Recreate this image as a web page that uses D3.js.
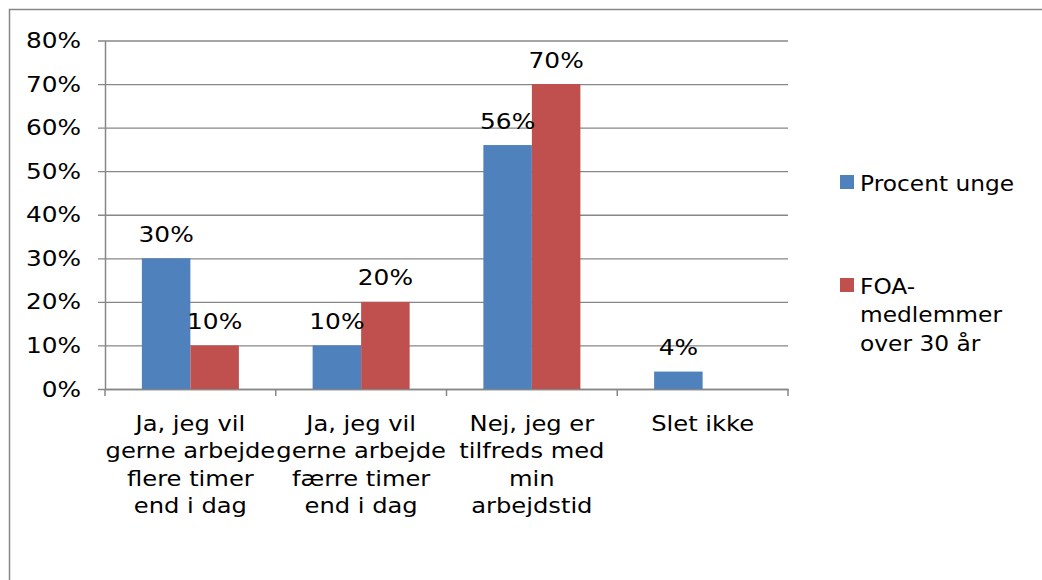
<!DOCTYPE html>
<html>
<head>
<meta charset="utf-8">
<script src="https://cdn.jsdelivr.net/npm/d3@7/dist/d3.min.js"></script>
<style>
  body { margin: 0; background: #fff; }
  text { font-family: "DejaVu Sans", Verdana, sans-serif; fill: #000; }
</style>
</head>
<body>
<div id="chart-area"></div>
<script>
// data
var categories = ['cat1', 'cat2', 'cat3', 'cat4'];
var categoryLines = [
  ['Ja, jeg vil', 'gerne arbejde', 'flere timer', 'end i dag'],
  ['Ja, jeg vil', 'gerne arbejde', 'færre timer', 'end i dag'],
  ['Nej, jeg er', 'tilfreds med', 'min', 'arbejdstid'],
  ['Slet ikke']
];
var seriesNames = ['Procent unge', 'FOA-medlemmer over 30 år'];
var legendLines = [['Procent unge'], ['FOA-', 'medlemmer', 'over 30 år']];
var ungeValues = [0.30, 0.10, 0.56, 0.04];
var foaValues = [0.10, 0.20, 0.70, null];
var yTicks = [0, 0.1, 0.2, 0.3, 0.4, 0.5, 0.6, 0.7, 0.8];
var colors = ['#4F81BD', '#C0504D'];

var svgWidth = 1042, svgHeight = 580;
var margin = {left: 105, right: 254, top: 40.5, bottom: 191};
var grey = '#878787';

var svg = d3.select('#chart-area')
  .append('svg')
  .attr('width', svgWidth)
  .attr('height', svgHeight);

// outer chart border (only left and top show)
svg.append('rect')
  .attr('x', 9.5).attr('y', 9.5)
  .attr('width', 1100).attr('height', 700)
  .attr('fill', 'none')
  .attr('stroke', grey)
  .attr('stroke-width', 1.5);

var x0 = d3.scaleBand()
  .domain(categories)
  .range([margin.left, svgWidth - margin.right]);

var x1 = d3.scaleBand()
  .domain(seriesNames)
  .range([0, x0.bandwidth()])
  .paddingOuter(0.76);

var y = d3.scaleLinear()
  .domain([0, 0.8])
  .range([svgHeight - margin.bottom, margin.top]);

// text placed through a translate + horizontal stretch
function putText(sel, x, y, sx, anchor) {
  return sel.attr('transform', 'translate(' + x + ',' + y + ') scale(' + sx + ',1)')
    .attr('text-anchor', anchor);
}

// gridlines with their little tick stubs on the left
var grid = svg.append('g')
  .attr('transform', 'translate(' + (margin.left - 7) + ',0)')
  .call(d3.axisRight(y).tickValues(yTicks).tickSize(svgWidth - margin.right - margin.left + 7).tickFormat(''));
grid.select('.domain').remove();
grid.selectAll('line').attr('stroke', grey).attr('stroke-width', 1.3);

// y axis line
var yAxis = svg.append('g')
  .attr('transform', 'translate(' + margin.left + ',0)')
  .call(d3.axisLeft(y).tickValues(yTicks).tickSize(0).tickFormat(''));
yAxis.select('.domain').attr('stroke', grey).attr('stroke-width', 1.5);

// y tick labels
yTicks.forEach(function(t) {
  putText(svg.append('text'), 81, y(t) + 7.5, 1.18, 'end')
    .style('font-size', '21px')
    .text(d3.format('.0%')(t));
});

// x axis with ticks at band edges
var xAxis = svg.append('g')
  .attr('transform', 'translate(0,' + y(0) + ')')
  .call(d3.axisBottom(x0).tickSize(0).tickFormat(''));
xAxis.select('.domain').attr('stroke', grey).attr('stroke-width', 1.5);
var edges = categories.map(function(c) { return x0(c); }).concat([x0.range()[1]]);
xAxis.selectAll('.edge').data(edges).enter()
  .append('line')
  .attr('x1', function(d) { return d; })
  .attr('x2', function(d) { return d; })
  .attr('y1', 0).attr('y2', 7)
  .attr('stroke', grey).attr('stroke-width', 1.5);

// category labels
categories.forEach(function(c, i) {
  categoryLines[i].forEach(function(line, j) {
    putText(svg.append('text'), x0(c) + x0.bandwidth() / 2, 430.7 + j * 27.5, 1.1, 'middle')
      .style('font-size', '22px')
      .text(line);
  });
});

// bars
var rows = categories.map(function(c, i) {
  return {cat: c, values: [ungeValues[i], foaValues[i]]};
});

var groups = svg.selectAll('.group').data(rows).enter()
  .append('g')
  .attr('transform', function(d) { return 'translate(' + x0(d.cat) + ',0)'; });

groups.selectAll('rect')
  .data(function(d) {
    return d.values.map(function(v, k) { return {s: seriesNames[k], v: v, k: k}; })
      .filter(function(e) { return e.v != null; });
  })
  .enter()
  .append('rect')
  .attr('x', function(d) { return x1(d.s); })
  .attr('y', function(d) { return y(d.v); })
  .attr('width', x1.bandwidth())
  .attr('height', function(d) { return y(0) - y(d.v); })
  .attr('fill', function(d) { return colors[d.k]; });

// data labels
groups.each(function(d) {
  var g = d3.select(this);
  d.values.forEach(function(v, k) {
    if (v == null) return;
    putText(g.append('text'), x1(seriesNames[k]) + x1.bandwidth() / 2, y(v) - 16.5, 1.13, 'middle')
      .style('font-size', '22px')
      .text(d3.format('.0%')(v));
  });
});

// legend
var legendTop = [175, 278];
seriesNames.forEach(function(s, k) {
  svg.append('rect')
    .attr('x', 840).attr('y', legendTop[k])
    .attr('width', 14).attr('height', 14)
    .attr('fill', colors[k]);
  legendLines[k].forEach(function(line, j) {
    putText(svg.append('text'), 860, legendTop[k] + 15.5 + j * 28.5, 1.06, 'start')
      .style('font-size', '22px')
      .text(line);
  });
});
</script>
</body>
</html>
